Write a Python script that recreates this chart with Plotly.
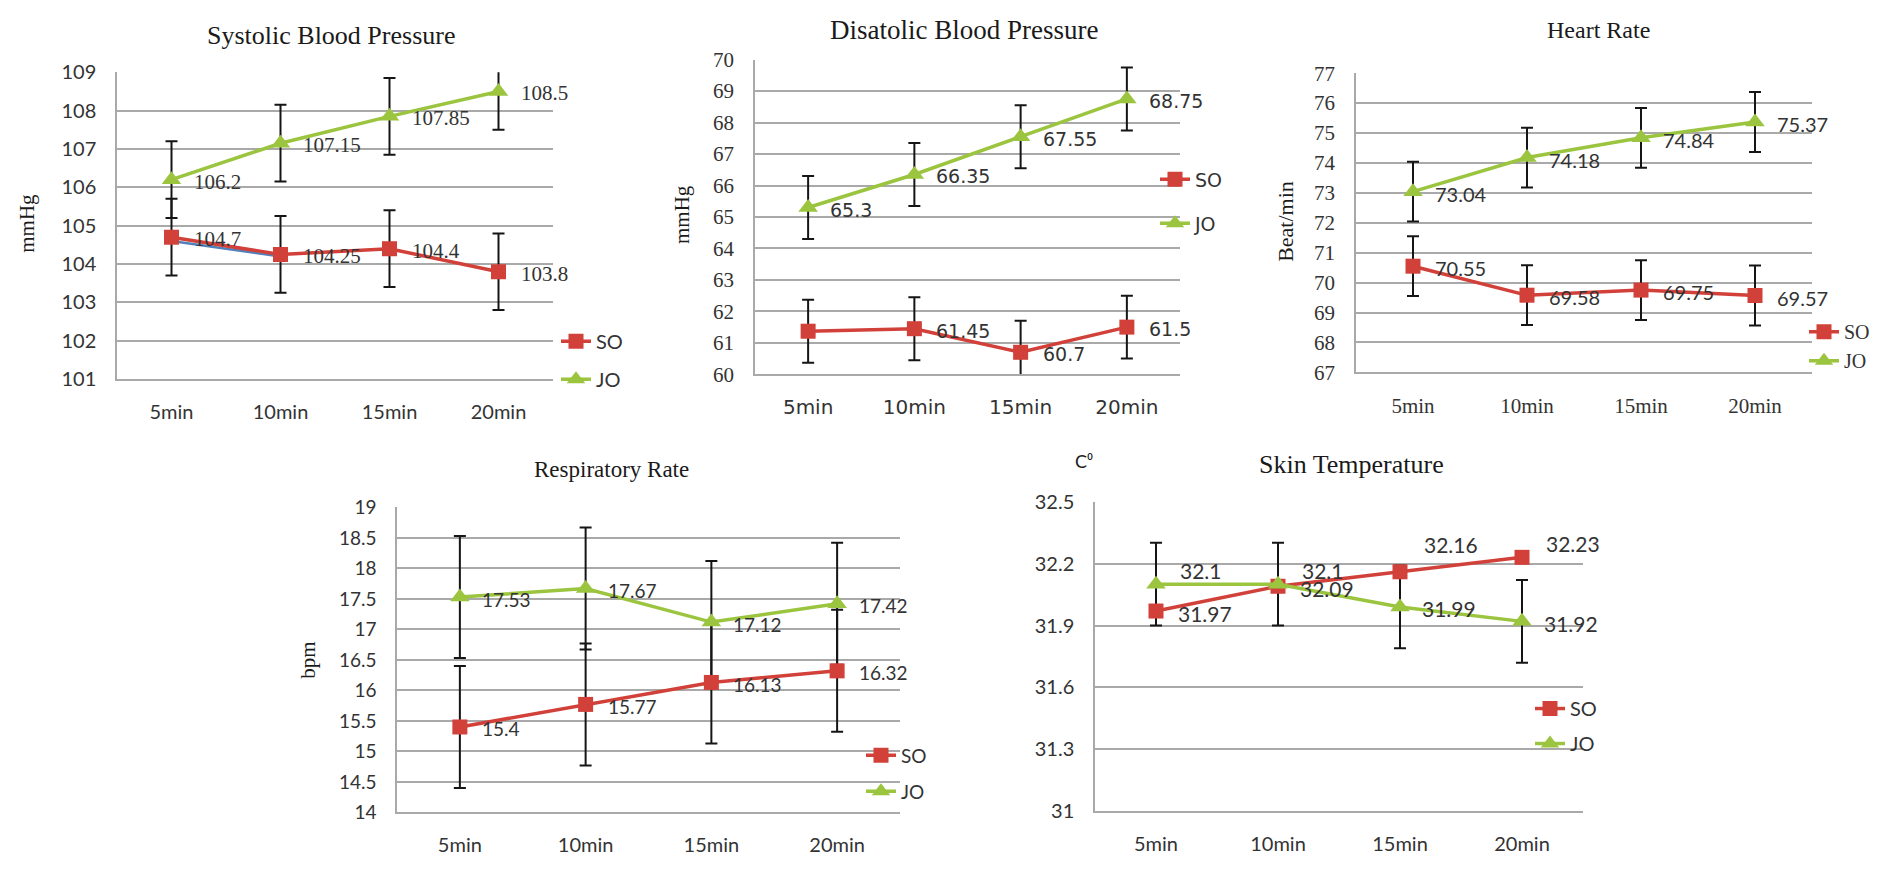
import plotly.graph_objects as go

W, H = 1898, 871

# ---------------- data ----------------
categories = ["5min", "10min", "15min", "20min"]

sbp_so = [104.7, 104.25, 104.4, 103.8]
sbp_jo = [106.2, 107.15, 107.85, 108.5]
sbp_so_err = [1, 1, 1, 1]
sbp_jo_err = [1, 1, 1, 1]
sbp_so_lab = ["104.7", "104.25", "104.4", "103.8"]
sbp_jo_lab = ["106.2", "107.15", "107.85", "108.5"]
sbp_extra = [104.6, 104.2, None, None]   # faint blue series visible under SO

dbp_so = [61.37, 61.45, 60.7, 61.5]
dbp_jo = [65.3, 66.35, 67.55, 68.75]
dbp_so_err = [1, 1, 1, 1]
dbp_jo_err = [1, 1, 1, 1]
dbp_so_lab = ["", "61.45", "60.7", "61.5"]
dbp_jo_lab = ["65.3", "66.35", "67.55", "68.75"]

hr_so = [70.55, 69.58, 69.75, 69.57]
hr_jo = [73.04, 74.18, 74.84, 75.37]
hr_so_err = [1, 1, 1, 1]
hr_jo_err = [1, 1, 1, 1]
hr_so_lab = ["70.55", "69.58", "69.75", "69.57"]
hr_jo_lab = ["73.04", "74.18", "74.84", "75.37"]

rr_so = [15.4, 15.77, 16.13, 16.32]
rr_jo = [17.53, 17.67, 17.12, 17.42]
rr_so_err = [1, 1, 1, 1]
rr_jo_err = [1, 1, 1, 1]
rr_so_lab = ["15.4", "15.77", "16.13", "16.32"]
rr_jo_lab = ["17.53", "17.67", "17.12", "17.42"]

st_so = [31.97, 32.09, 32.16, 32.23]
st_jo = [32.1, 32.1, 31.99, 31.92]
st_so_err = None
st_jo_err = [0.2, 0.2, 0.2, 0.2]
st_so_lab = ["31.97", "32.09", "32.16", "32.23"]
st_jo_lab = ["32.1", "32.1", "31.99", "31.92"]

# ---------------- style ----------------
RED = "#d2403a"
GREEN = "#9bc43f"
BLUE = "#4f81bd"
GRID = "#a9a9a9"
TXT = "#333333"
SERIF = "Liberation Serif"
SANS = "Lato"
WIDE = "DejaVu Sans"


def px(x):
    return x / W


def py(y):
    return 1 - y / H


panels = [
    dict(title="Systolic Blood Pressure", tpos=(331, 23), tsize=26,
         ylabel="mmHg", ylpos=(27, 217), ylsize=21, ylfont=SERIF,
         so=sbp_so, jo=sbp_jo, soe=sbp_so_err, joe=sbp_jo_err,
         sol=sbp_so_lab, jol=sbp_jo_lab, extra=sbp_extra,
         box=(117, 553, 61, 377), yr=(101, 109), dtick=1,
         ytf=(SANS, 20), xtf=(SANS, 20), lblf=(SERIF, 21),
         leg=(563, 337, 377), legf=(SANS, 20),
         so_pos=["r", "r", "r", "r"], jo_pos=["r", "r", "r", "r"]),
    dict(title="Disatolic Blood Pressure", tpos=(964, 18), tsize=27,
         ylabel="mmHg", ylpos=(682, 208), ylsize=21, ylfont=SERIF,
         so=dbp_so, jo=dbp_jo, soe=dbp_so_err, joe=dbp_jo_err,
         sol=dbp_so_lab, jol=dbp_jo_lab, extra=None,
         box=(755, 1180, 48, 372), yr=(60, 70), dtick=1,
         ytf=(SERIF, 21), xtf=(WIDE, 20), lblf=(WIDE, 19),
         leg=(1162, 170, 216), legf=(WIDE, 19),
         so_pos=["r", "r", "r", "r"], jo_pos=["r", "r", "r", "r"]),
    dict(title="Heart Rate", tpos=(1598, 18), tsize=24,
         ylabel="Beat/min", ylpos=(1286, 215), ylsize=22, ylfont=SERIF,
         so=hr_so, jo=hr_jo, soe=hr_so_err, joe=hr_jo_err,
         sol=hr_so_lab, jol=hr_jo_lab, extra=None,
         box=(1356, 1812, 62, 370), yr=(67, 77), dtick=1,
         ytf=(SERIF, 21), xtf=(SERIF, 21), lblf=(SANS, 20),
         leg=(1811, 327, 358), legf=(SERIF, 20),
         so_pos=["r", "r", "r", "r"], jo_pos=["r", "r", "r", "r"]),
    dict(title="Respiratory Rate", tpos=(611, 470), tsize=23,
         ylabel="bpm", ylpos=(308, 667), ylsize=21, ylfont=SERIF,
         so=rr_so, jo=rr_jo, soe=rr_so_err, joe=rr_jo_err,
         sol=rr_so_lab, jol=rr_jo_lab, extra=None,
         box=(397, 900, 509, 823), yr=(14, 19), dtick=0.5,
         ytf=(SANS, 19), xtf=(SANS, 20), lblf=(SANS, 19),
         leg=(868, 763, 801), legf=(SANS, 19),
         so_pos=["r", "r", "r", "r"], jo_pos=["r", "r", "r", "r"]),
    dict(title="Skin Temperature", tpos=(1351, 465), tsize=26,
         ylabel="C⁰", ylpos=(1084, 461), ylsize=18, ylfont=SANS,
         so=st_so, jo=st_jo, soe=st_so_err, joe=st_jo_err,
         sol=st_so_lab, jol=st_jo_lab, extra=None,
         box=(1095, 1583, 503, 822), yr=(31, 32.5), dtick=0.3,
         ytf=(SANS, 20), xtf=(SANS, 20), lblf=(SANS, 21),
         leg=(1537, 715, 752), legf=(SANS, 20),
         so_pos=["r", "r", "t", "tr"], jo_pos=["tr", "tr", "r", "r"]),
]

fig = go.Figure()
annotations = []
layout = dict(
    width=W, height=H, margin=dict(l=0, r=0, t=0, b=0),
    paper_bgcolor="white", plot_bgcolor="white", showlegend=True,
)

xidx = list(range(len(categories)))

for i, p in enumerate(panels):
    n = "" if i == 0 else str(i + 1)
    xa, ya = "x" + n, "y" + n
    legname = "legend" + n
    x0, x1, y0, y1 = p["box"]

    # faint extra series (only in the first panel)
    if p["extra"] is not None:
        fig.add_trace(go.Scatter(
            x=xidx, y=p["extra"], mode="lines", xaxis=xa, yaxis=ya,
            line=dict(color=BLUE, width=2.5), showlegend=False, hoverinfo="skip",
        ))

    # error bar traces (drawn under lines/markers)
    for vals, err in ((p["so"], p["soe"]), (p["jo"], p["joe"])):
        if err is None:
            continue
        fig.add_trace(go.Scatter(
            x=xidx, y=vals, mode="markers", xaxis=xa, yaxis=ya,
            marker=dict(size=1, opacity=0), showlegend=False, hoverinfo="skip",
            error_y=dict(type="data", array=err, symmetric=True,
                         color="#151515", thickness=2, width=6),
        ))

    # main series
    for name, vals, color, sym, grp in (
            ("SO", p["so"], RED, "square", "so"),
            ("JO", p["jo"], GREEN, "triangle-up", "jo")):
        fig.add_trace(go.Scatter(
            x=xidx, y=vals, mode="lines+markers", name=name,
            xaxis=xa, yaxis=ya, legend=legname, legendgroup=grp + n,
            line=dict(color=color, width=3.5),
            marker=dict(color=color, symbol=sym, size=15 if sym == "square" else 17),
            cliponaxis=False,
        ))

    # data labels
    for labs, vals, poss in ((p["sol"], p["so"], p["so_pos"]),
                             (p["jol"], p["jo"], p["jo_pos"])):
        for k, (lab, v, pos) in enumerate(zip(labs, vals, poss)):
            if not lab:
                continue
            if pos == "r":
                xs, ys = 20, -2
            elif pos == "tr":
                xs, ys = 22, 14
            else:  # "t"
                xs, ys = 22, 27
            annotations.append(dict(
                x=k, y=v, xref=xa, yref=ya, text=lab, showarrow=False,
                xanchor="left", yanchor="middle", xshift=xs, yshift=ys,
                font=dict(family=p["lblf"][0], size=p["lblf"][1], color=TXT),
            ))

    # axes
    layout["xaxis" + n] = dict(
        domain=[px(x0), px(x1)], anchor=ya, type="linear",
        range=[-0.5, len(categories) - 0.5],
        tickmode="array", tickvals=xidx, ticktext=categories,
        showgrid=False, zeroline=False, showline=True, linecolor=GRID, linewidth=1.5,
        ticks="", ticklabelstandoff=14,
        tickfont=dict(family=p["xtf"][0], size=p["xtf"][1], color=TXT),
    )
    layout["yaxis" + n] = dict(
        domain=[py(y1), py(y0)], anchor=xa,
        range=list(p["yr"]), dtick=p["dtick"], tick0=p["yr"][0],
        showgrid=True, gridcolor=GRID, gridwidth=1.5,
        zeroline=False, showline=True, linecolor=GRID, linewidth=1.5,
        ticks="", ticklabelstandoff=15,
        tickfont=dict(family=p["ytf"][0], size=p["ytf"][1], color=TXT),
    )

    # title
    annotations.append(dict(
        x=px(p["tpos"][0]), y=py(p["tpos"][1]), xref="paper", yref="paper",
        text=p["title"], showarrow=False, xanchor="center", yanchor="middle",
        font=dict(family=SERIF, size=p["tsize"], color="#1a1a1a"),
    ))
    # y label
    annotations.append(dict(
        x=px(p["ylpos"][0]), y=py(p["ylpos"][1]), xref="paper", yref="paper",
        text=p["ylabel"], showarrow=False, xanchor="center", yanchor="middle",
        textangle=0 if p["ylabel"] == "C⁰" else -90,
        font=dict(family=p["ylfont"], size=p["ylsize"], color="#1a1a1a"),
    ))

    # legend
    lx, ly_so, ly_jo = p["leg"]
    fs = p["legf"][1]
    gap = (ly_jo - ly_so) - (fs * 1.3 + 5)
    layout[legname] = dict(
        x=px(lx - 7), y=py(ly_so - fs * 0.65 - 6), xanchor="left", yanchor="top",
        bgcolor="rgba(0,0,0,0)", borderwidth=0, itemwidth=30,
        traceorder="grouped", tracegroupgap=max(gap, 0),
        font=dict(family=p["legf"][0], size=fs, color=TXT),
    )

layout["annotations"] = annotations
fig.update_layout(**layout)
fig.write_html("out.html")
